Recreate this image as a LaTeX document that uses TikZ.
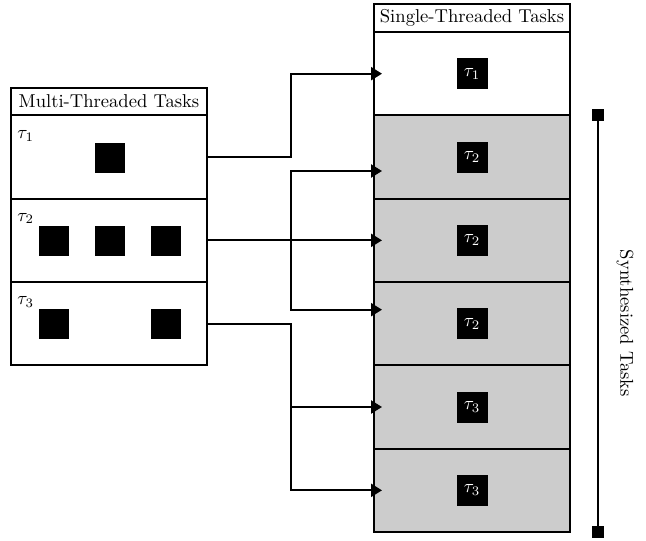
\documentclass[tikz,border=0pt]{standalone}
\usetikzlibrary{arrows.meta}
\definecolor{synthgray}{gray}{0.8}
\newdimen\pxu \pxu=0.5376pt
\begin{document}
\begin{tikzpicture}[x=\pxu, y=-\pxu,
  box/.style={draw, line width=2.2\pxu, minimum width=196\pxu, inner sep=0pt, outer sep=0pt},
  head/.style={box, minimum height=27.5\pxu, fill=white},
  row/.style={box, minimum height=83.33\pxu},
  synth/.style={row, fill=synthgray},
  thread/.style={fill=black, minimum size=30\pxu, inner sep=0pt},
  task/.style={fill=black, text=white, minimum size=31\pxu, inner sep=0pt},
  tlabel/.style={anchor=north west, inner sep=0pt},
  conn/.style={line width=1.18pt, -{Triangle[length=5.9pt, width=7pt]}, shorten >=-4.3pt},
  spanline/.style={line width=1.18pt, {Square[length=6.45pt, width=6.45pt]}-{Square[length=6.45pt, width=6.45pt]}}]
\useasboundingbox (0,0) rectangle (646,540);

% multi-threaded tasks
\node[head] (mh) at (109,101.6) {Multi-Threaded Tasks};
\node[row] (l1) at (109,157) {};
\node[row] (l2) at (109,240.33) {};
\node[row] (l3) at (109,323.67) {};
\node[tlabel] (lt1) at ([shift={(6,15)}]l1.north west) {$\tau_1$};
\node[tlabel] (lt2) at ([shift={(6,14)}]l2.north west) {$\tau_2$};
\node[tlabel] (lt3) at ([shift={(6,14)}]l3.north west) {$\tau_3$};
\node[thread] (a1) at (110,158) {};
\node[thread] (b1) at (54,241) {};
\node[thread] (b2) at (110,241) {};
\node[thread] (b3) at (166,241) {};
\node[thread] (c1) at (54,324) {};
\node[thread] (c3) at (166,324) {};

% single-threaded tasks
\node[head] (sh) at (472,18) {Single-Threaded Tasks};
\node[row] (r1) at (472,73.67) {};
\node[synth] (r2) at (472,157) {};
\node[synth] (r3) at (472,240.33) {};
\node[synth] (r4) at (472,323.67) {};
\node[synth] (r5) at (472,407) {};
\node[synth] (r6) at (472,490.33) {};
\node[task] (s1) at (r1) {$\tau_1$};
\node[task] (s2) at (r2) {$\tau_2$};
\node[task] (s3) at (r3) {$\tau_2$};
\node[task] (s4) at (r4) {$\tau_2$};
\node[task] (s5) at (r5) {$\tau_3$};
\node[task] (s6) at (r6) {$\tau_3$};

% synthesized range
\coordinate (stop) at (598,109);
\coordinate (sbot) at (598,538);
\draw[spanline] (stop) -- (sbot);
\node[rotate=-90] (slab) at (625,323.5) {Synthesized Tasks};

% mapping
\coordinate (bus) at (291,0);
\draw[conn] (l1.east) -- (l1.east -| bus) |- (r1.west);
\draw[conn] (l2.east) -- (r3.west);
\draw[conn] (l2.east -| bus) |- ([yshift=-14\pxu]r2.west);
\draw[conn] (l2.east -| bus) |- ([yshift=14\pxu]r4.west);
\draw[conn] (l3.east) -- (l3.east -| bus) |- (r5.west);
\draw[conn] (l3.east -| bus) |- (r6.west);
\end{tikzpicture}
\end{document}
